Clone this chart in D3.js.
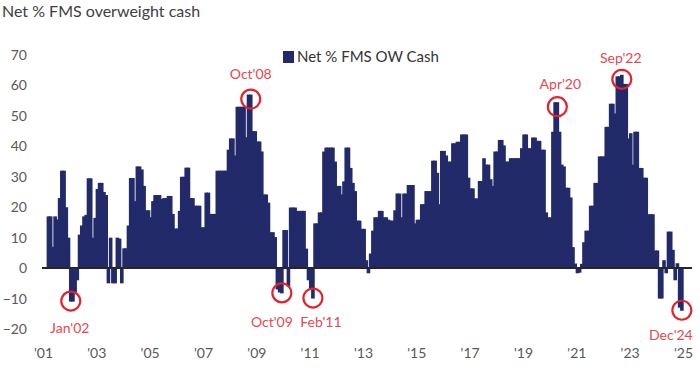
<!DOCTYPE html>
<html>
<head>
<meta charset="utf-8">
<script src="https://cdn.jsdelivr.net/npm/d3@7"></script>
<style>
  body { margin: 0; background: #fff; }
  svg { display: block; font-family: Lato, 'Open Sans', sans-serif; }
</style>
</head>
<body>
<svg width="700" height="370"></svg>
<script>
// monthly net % of FMS investors overweight cash, from Mar 2001
const firstMonth = '2001-03';
const owCash = [
  17, 17, 7, 17, 16, 23, 32, 32, 20, 10,                              // 2001
  -11, -11, -8, -4, 11, 14, 17, 17.5, 29.5, 29.5, 10, 16.5,           // 2002
  26, 28, 28, 25, 24, -5, 10, -5, -5, 10, 9.7, -5,                    // 2003
  6.5, 6.5, 14, 29.6, 29.6, 22, 33.4, 33.4, 32.4, 27, 19, 19,         // 2004
  16.7, 22, 24, 24, 24, 22.7, 23, 23, 23.7, 23.7, 17.8, 13,           // 2005
  13, 18.8, 30, 30, 33, 33, 23, 23, 20.5, 20.5, 20.5, 13.4,           // 2006
  13.4, 24.8, 24.8, 17.8, 17.8, 17.8, 32, 32, 32, 32, 32, 38.9,       // 2007
  42.6, 42.6, 37, 53, 53, 53, 53, 43, 57, 57, 45, 45,                 // 2008
  41.6, 41.6, 38.3, 24.2, 24.2, 21.5, 11.8, 11.8, 10.2, -7, -8, -8.3, // 2009
  12.5, 12.5, -6, 19.9, 19.9, 19.9, 18.8, 18.8, 18.8, 18.8, 6.4, -4,  // 2010
  -7, -10, 14.7, 14.7, 18.3, 18.3, 38.3, 39.6, 39.6, 39.6, 39.6, 35,  // 2011
  27, 27, 24.2, 28.5, 39.6, 39.6, 32.9, 28, 25.3, 15.6, 15.6, 12.9,   // 2012
  12.9, 2.6, -1.7, 4.8, 12.3, 16.7, 16.7, 18.8, 18.8, 16.7, 16.7, 15.9, // 2013
  15.6, 15.6, 19, 24.5, 24.5, 16.7, 24.5, 24.5, 27.3, 27.3, 27.3, 14.7, // 2014
  15.9, 15.9, 21, 21, 25.3, 25.3, 25.3, 35.3, 35.3, 31.3, 21, 38.5,   // 2015
  38.5, 37, 35, 35, 41, 41, 41.5, 41.5, 43.9, 43.9, 43.9, 29.7,       // 2016
  26.2, 26.2, 22.9, 22.9, 28.6, 28.6, 36.1, 34, 34, 29.2, 27, 38.3,   // 2017
  38.3, 42.1, 42.1, 40.3, 35, 35, 36.1, 36.1, 36.1, 36.1, 36.1, 39.4, // 2018
  43.9, 43.9, 39.4, 39.4, 42.9, 42.9, 41.8, 41.8, 38.9, 38.9, 18.3, 16.7, // 2019
  16.7, 44.8, 54.5, 54.5, 44.8, 34, 33.4, 26.4, 26.4, 23.2, 6.9, 1.5, // 2020
  -1.7, -1.5, 1.4, 8.5, 12.3, 12.3, 20.5, 20.5, 28, 28, 36.7, 36.7,   // 2021
  36.7, 46.4, 46.4, 54, 54, 50.8, 63, 63, 63.5, 60.5, 60.5, 42.6,     // 2022
  44.3, 34, 44.8, 44.8, 32.9, 32.9, 29.7, 29.7, 17.7, 17.7, 17.7, 5.8, // 2023
  5.8, -10, -10, 2.6, -1.7, 12, 12, 6, -4, 1.6, -13, -14              // 2024
];

const yTicks = [-20, -10, 0, 10, 20, 30, 40, 50, 60, 70];
const xTickYears = [2001, 2003, 2005, 2007, 2009, 2011, 2013, 2015, 2017, 2019, 2021, 2023, 2025];

// circled extremes
const noteLabels = ["Jan'02", "Oct'08", "Oct'09", "Feb'11", "Apr'20", "Sep'22", "Dec'24"];
const noteMonths = ['2002-01', '2008-10', '2009-12', '2011-02', '2020-04', '2022-09', '2024-12'];

const svg = d3.select('svg');
const svgW = +svg.attr('width');
const svgH = +svg.attr('height');

const parseMonth = d3.timeParse('%Y-%m');
const start = parseMonth(firstMonth);
const months = owCash.map((d, i) => d3.timeMonth.offset(start, i));

const x = d3.scaleTime()
    .domain([new Date(2001, 0, 1), new Date(2025, 0, 1)])
    .range([43, 683]);
const y = d3.scaleLinear()
    .domain([-20, 70])
    .range([329, 55]);

const xMid = dt => (x(dt) + x(d3.timeMonth.offset(dt, 1))) / 2;
const step = x(new Date(2001, 1, 1)) - x(new Date(2001, 0, 1));
const barW = step * 1.6;

// title
svg.append('text')
    .attr('x', 2)
    .attr('y', 17)
    .attr('font-size', 16)
    .attr('fill', '#404040')
    .text('Net % FMS overweight cash');

// bars
svg.append('g')
  .selectAll('rect')
  .data(owCash)
  .join('rect')
    .attr('x', (d, i) => xMid(months[i]) - barW / 2)
    .attr('y', d => y(Math.max(d, 0)))
    .attr('width', barW)
    .attr('height', d => Math.abs(y(d) - y(0)))
    .attr('fill', '#222a69');

// zero line
svg.append('line')
    .attr('x1', 42)
    .attr('x2', 692)
    .attr('y1', y(0))
    .attr('y2', y(0))
    .attr('stroke', '#262626')
    .attr('stroke-width', 2);

// y axis labels
const yAxis = svg.append('g')
    .attr('transform', 'translate(33,0)')
    .call(d3.axisLeft(y).tickValues(yTicks).tickSize(0).tickPadding(6));
yAxis.select('.domain').remove();
yAxis.selectAll('text')
    .attr('font-family', 'Lato, sans-serif')
    .attr('font-size', 14)
    .attr('fill', '#595959');

// x axis labels
const xAxis = svg.append('g')
    .attr('transform', 'translate(0,341)')
    .call(d3.axisBottom(x)
        .tickValues(xTickYears.map(yr => new Date(yr, 0, 1)))
        .tickFormat(d3.timeFormat("'%y"))
        .tickSize(0)
        .tickPadding(7));
xAxis.select('.domain').remove();
xAxis.selectAll('text')
    .attr('font-family', 'Lato, sans-serif')
    .attr('font-size', 14)
    .attr('fill', '#595959');

// legend
svg.append('rect')
    .attr('x', 283)
    .attr('y', 51)
    .attr('width', 11)
    .attr('height', 12)
    .attr('fill', '#222a69');
svg.append('text')
    .attr('x', 297)
    .attr('y', 62)
    .attr('font-size', 15)
    .attr('fill', '#333')
    .text('Net % FMS OW Cash');

// annotations
const labelShift = [[-1, 27], [0, -25], [-10, 29], [8, 24], [3, -23], [-1, -21], [-11, 25]];
noteMonths.forEach((m, k) => {
    const dt = parseMonth(m);
    const i = d3.timeMonth.count(start, dt);
    const v = owCash[i];
    const cx = xMid(dt);
    const cy = y(v) + (v > 0 ? 4.5 : -0.5);
    svg.append('circle')
        .attr('cx', cx)
        .attr('cy', cy)
        .attr('r', 9.5)
        .attr('fill', 'none')
        .attr('stroke', '#e3222b')
        .attr('stroke-width', 2.2);
    svg.append('text')
        .attr('x', cx + labelShift[k][0])
        .attr('y', cy + labelShift[k][1])
        .attr('dy', '0.35em')
        .attr('text-anchor', 'middle')
        .attr('font-size', 14)
        .attr('fill', '#e5484f')
        .text(noteLabels[k]);
});
</script>
</body>
</html>
